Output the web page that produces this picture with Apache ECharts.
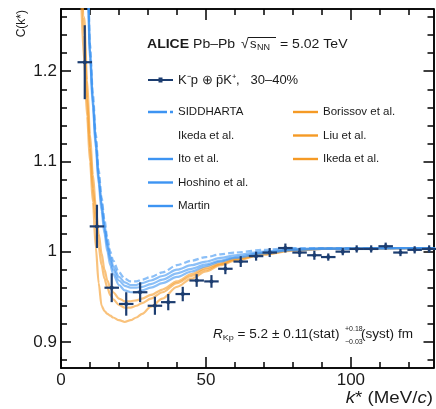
<!DOCTYPE html>
<html><head><meta charset="utf-8">
<script src="https://cdn.jsdelivr.net/npm/echarts@6/dist/echarts.min.js"></script>
<style>html,body{margin:0;padding:0;background:#fff}#c{width:436px;height:409px}</style>
</head><body><div id="c"></div>
<script>
// ---- data ----
const kData = [8.2, 12.4, 17.5, 22.5, 27.3, 32.4, 37, 42, 46.8, 51.9, 56.7, 62, 67.3, 72, 77.4, 82.3, 87.4, 92.2, 97.2, 102, 107, 112, 117.1, 122, 127];
const cData = [1.210, 1.028, 0.960, 0.942, 0.955, 0.940, 0.944, 0.953, 0.968, 0.967, 0.981, 0.989, 0.995, 0.999, 1.004, 0.999, 0.996, 0.994, 1.000, 1.003, 1.003, 1.006, 0.999, 1.002, 1.003];
const cErr  = [0.041, 0.024, 0.016, 0.013, 0.011, 0.010, 0.009, 0.008, 0.007, 0.007, 0.006, 0.006, 0.005, 0.005, 0.005, 0.005, 0.005, 0.004, 0.004, 0.004, 0.004, 0.004, 0.004, 0.004, 0.004];
const kHalfWidth = [2.5, 2.5, 2.5, 2.5, 2.5, 2.5, 2.5, 2.5, 2.5, 2.5, 2.5, 2.5, 2.5, 2.5, 2.5, 2.5, 2.5, 2.5, 2.5, 2.5, 2.5, 2.5, 2.5, 2.5, 2.5];

const curveK      = [6, 8, 9, 10, 11, 12, 13, 14, 15, 16, 17, 18, 20, 22, 24, 26, 28, 31, 35, 40, 45, 50, 55, 60, 70, 80, 90, 100, 115, 130];
const borissov    = [1.38, 1.21, 1.15, 1.10, 1.055, 1.005, 0.965, 0.940, 0.934, 0.931, 0.929, 0.927, 0.924, 0.922, 0.924, 0.927, 0.931, 0.939, 0.948, 0.961, 0.970, 0.978, 0.985, 0.990, 0.997, 1.002, 1.003, 1.003, 1.004, 1.004];
const liu         = [1.42, 1.24, 1.17, 1.115, 1.07, 1.035, 1.005, 0.985, 0.970, 0.960, 0.952, 0.947, 0.941, 0.938, 0.938, 0.940, 0.943, 0.948, 0.955, 0.965, 0.973, 0.980, 0.986, 0.991, 0.997, 1.001, 1.003, 1.003, 1.004, 1.004];
const ikedaOrange = [1.45, 1.26, 1.19, 1.13, 1.085, 1.05, 1.02, 0.998, 0.980, 0.968, 0.960, 0.955, 0.948, 0.945, 0.945, 0.946, 0.948, 0.952, 0.958, 0.967, 0.975, 0.982, 0.987, 0.992, 0.998, 1.002, 1.003, 1.003, 1.004, 1.004];
const hoshino     = [1.9, 1.45, 1.32, 1.215, 1.16, 1.115, 1.075, 1.045, 1.02, 1.0, 0.985, 0.975, 0.963, 0.957, 0.955, 0.955, 0.957, 0.960, 0.965, 0.972, 0.978, 0.984, 0.989, 0.993, 0.998, 1.002, 1.003, 1.003, 1.004, 1.004];
const martin      = [1.9, 1.46, 1.33, 1.22, 1.165, 1.12, 1.08, 1.05, 1.026, 1.006, 0.991, 0.980, 0.968, 0.962, 0.960, 0.960, 0.961, 0.964, 0.969, 0.976, 0.981, 0.986, 0.990, 0.994, 0.999, 1.002, 1.003, 1.003, 1.004, 1.004];
const ito         = [1.9, 1.47, 1.34, 1.225, 1.17, 1.125, 1.085, 1.055, 1.03, 1.01, 0.995, 0.984, 0.972, 0.966, 0.963, 0.963, 0.965, 0.968, 0.973, 0.980, 0.985, 0.989, 0.993, 0.996, 1.000, 1.003, 1.004, 1.004, 1.004, 1.004];
const siddharta   = [1.9, 1.48, 1.35, 1.23, 1.175, 1.13, 1.09, 1.06, 1.035, 1.015, 1.0, 0.990, 0.977, 0.970, 0.967, 0.967, 0.969, 0.972, 0.977, 0.985, 0.990, 0.994, 0.997, 0.999, 1.002, 1.004, 1.004, 1.004, 1.004, 1.004];

const xMajor = [0, 50, 100];
const xMinor = [10, 20, 30, 40, 60, 70, 80, 90, 110, 120];
const yMajor = [0.9, 1.0, 1.1, 1.2];
const yMinor = [0.88, 0.92, 0.94, 0.96, 0.98, 1.02, 1.04, 1.06, 1.08, 1.12, 1.14, 1.16, 1.18, 1.22, 1.24, 1.26];

const dataName = 'K\u207Bp \u2295 p\u0304K\u207A,   30\u201340%';

// ---- styling ----
const FONT = "'Liberation Sans', Arial, sans-serif";
const TXT = '#1a1a1a';
const DATA_COLOR = '#1c3d70';
const BLUE = '#3d94f2';
const ORANGE = '#f59a25';
const X_MIN = 0, X_MAX = 128.5, Y_MIN = 0.871, Y_MAX = 1.269;
const ICON_SOLID = 'path://M0,3.8L25,3.8L25,6.2L0,6.2Z';
const ICON_DASH = 'path://M0,3.8L19,3.8L19,6.2L0,6.2Z M22,3.8L25,3.8L25,6.2L22,6.2Z';
const ICON_DATA = 'path://M0,4.1L25,4.1L25,5.9L0,5.9Z M10.5,2.5L14.5,2.5L14.5,7.5L10.5,7.5Z';

function xAx(pos, ticks, len, labels) {
  return {
    type: 'value', position: pos, min: X_MIN, max: X_MAX,
    axisLine: { show: true, onZero: false, lineStyle: { color: '#000', width: 1.5 } },
    axisTick: { show: true, inside: true, length: len, customValues: ticks, lineStyle: { color: '#000', width: 1.5 } },
    axisLabel: labels ? { show: true, customValues: labels, margin: 4, fontSize: 17, color: TXT, fontFamily: FONT } : { show: false },
    splitLine: { show: false }, minorTick: { show: false }
  };
}
function yAx(pos, ticks, len, labels) {
  return {
    type: 'value', position: pos, min: Y_MIN, max: Y_MAX,
    axisLine: { show: true, onZero: false, lineStyle: { color: '#000', width: 1.5 } },
    axisTick: { show: true, inside: true, length: len, customValues: ticks, lineStyle: { color: '#000', width: 1.5 } },
    axisLabel: labels ? { show: true, customValues: labels, margin: 4, fontSize: 17, color: TXT, fontFamily: FONT } : { show: false },
    splitLine: { show: false }, minorTick: { show: false }
  };
}
function curve(name, vals, color, dashed) {
  return {
    type: 'line', name: name, xAxisIndex: 0, yAxisIndex: 0,
    data: curveK.map((k, i) => [k, vals[i]]),
    symbol: 'none', showSymbol: false, smooth: 0.3, smoothMonotone: 'x',
    lineStyle: { color: color, width: 2.2, opacity: 0.6, type: dashed ? [6, 3] : 'solid' },
    itemStyle: { color: color }, z: 2, silent: true, animation: false, clip: true
  };
}
function renderErr(params, api) {
  const k = api.value(0), c = api.value(1), e = api.value(2), dx = api.value(3);
  const pL = api.coord([k - dx, c]), pR = api.coord([k + dx, c]);
  const pT = api.coord([k, c + e]), pB = api.coord([k, c - e]);
  const pC = api.coord([k, c]);
  const st = { stroke: DATA_COLOR, lineWidth: 2.2 };
  return { type: 'group', children: [
    { type: 'line', shape: { x1: pL[0], y1: pL[1], x2: pR[0], y2: pR[1] }, style: st },
    { type: 'line', shape: { x1: pT[0], y1: pT[1], x2: pB[0], y2: pB[1] }, style: st },
    { type: 'circle', shape: { cx: pC[0], cy: pC[1], r: 2 }, style: { fill: DATA_COLOR } }
  ]};
}

const modelText = { fontSize: 11.5, color: TXT, fontFamily: FONT, lineHeight: 13 };
const chart = echarts.init(document.getElementById('c'), null, { renderer: 'canvas' });
chart.setOption({
  animation: false,
  backgroundColor: '#fff',
  grid: { left: 61, right: 2.5, top: 9, bottom: 41, outerBoundsMode: 'none' },
  xAxis: [ xAx('bottom', xMajor, 11, xMajor), xAx('bottom', xMinor, 6), xAx('top', xMajor, 11), xAx('top', xMinor, 6) ],
  yAxis: [ yAx('left', yMajor, 10, yMajor), yAx('left', yMinor, 6), yAx('right', yMajor, 10), yAx('right', yMinor, 6) ],
  legend: [
    { selectedMode: false, orient: 'vertical', left: 148, top: 73, padding: 0, itemWidth: 25, itemHeight: 10,
      textStyle: { fontSize: 13, color: TXT, fontFamily: FONT, lineHeight: 14 },
      data: [{ name: dataName, icon: ICON_DATA }] },
    { selectedMode: false, orient: 'vertical', left: 148, top: 105.5, padding: 0, itemWidth: 25, itemHeight: 10, itemGap: 10.5, textStyle: modelText,
      data: [{ name: 'SIDDHARTA', icon: ICON_DASH }, { name: 'Ikeda et al.', icon: ICON_SOLID }, { name: 'Ito et al.', icon: ICON_SOLID },
             { name: 'Hoshino et al.', icon: ICON_SOLID }, { name: 'Martin', icon: ICON_SOLID }] },
    { selectedMode: false, orient: 'vertical', left: 293, top: 105.5, padding: 0, itemWidth: 25, itemHeight: 10, itemGap: 10.5, textStyle: modelText,
      data: [{ name: 'Borissov et al.', icon: ICON_SOLID }, { name: 'Liu et al.', icon: ICON_SOLID }, { name: 'Ikeda et al. ', icon: ICON_SOLID }] }
  ],
  series: [
    curve('Borissov et al.', borissov, ORANGE, false),
    curve('Liu et al.', liu, ORANGE, false),
    curve('Ikeda et al. ', ikedaOrange, ORANGE, false),
    curve('Hoshino et al.', hoshino, BLUE, false),
    curve('Martin', martin, BLUE, false),
    curve('Ito et al.', ito, BLUE, false),
    curve('SIDDHARTA', siddharta, BLUE, true),
    { type: 'line', name: 'Ikeda et al.', data: [], symbol: 'none', lineStyle: { color: 'rgba(0,0,0,0)' }, itemStyle: { color: 'rgba(0,0,0,0)' } },
    { type: 'custom', name: dataName, xAxisIndex: 0, yAxisIndex: 0, renderItem: renderErr, z: 5,
      itemStyle: { color: DATA_COLOR },
      encode: { x: 0, y: 1 },
      data: kData.map((k, i) => [k, cData[i], cErr[i], kHalfWidth[i]]) }
  ],
  graphic: [
    // title pieces
    { type: 'text', x: 147, y: 44, scaleX: 1.08, style: { text: '{b|ALICE} Pb\u2013Pb', fill: TXT, font: '13px ' + FONT, verticalAlign: 'middle',
      rich: { b: { fontWeight: 'bold', fontSize: 13, fontFamily: FONT } } } },
    { type: 'text', x: 241, y: 44, style: { text: '\u221A', fill: TXT, font: '14px ' + FONT, verticalAlign: 'middle' } },
    { type: 'line', shape: { x1: 248, y1: 37.5, x2: 276, y2: 37.5 }, style: { stroke: TXT, lineWidth: 1 } },
    { type: 'text', x: 250, y: 44, style: { text: 's', fill: TXT, font: '13px ' + FONT, verticalAlign: 'middle' } },
    { type: 'text', x: 257, y: 48, style: { text: 'NN', fill: TXT, font: '9px ' + FONT, verticalAlign: 'middle' } },
    { type: 'text', x: 280, y: 44, scaleX: 1.08, style: { text: '= 5.02 TeV', fill: TXT, font: '13px ' + FONT, verticalAlign: 'middle' } },
    // axis titles
    { type: 'text', x: 22, y: 10, rotation: Math.PI / 2, style: { text: 'C(k*)', fill: TXT, font: '12px ' + FONT, align: 'right', verticalAlign: 'middle' } },
    { type: 'text', x: 433, y: 398, scaleX: 1.1, style: { text: '{i|k}* (MeV/{i|c})', fill: TXT, font: '17px ' + FONT, align: 'right', verticalAlign: 'middle',
      rich: { i: { fontStyle: 'italic', fontSize: 17, fontFamily: FONT } } } },
    // radius annotation
    { type: 'text', x: 213, y: 335, scaleX: 1.13, style: { text: '{i|R}{sub|Kp} = 5.2 \u00B1 0.11(stat)', fill: TXT, font: '12px ' + FONT, align: 'left', verticalAlign: 'middle',
      rich: { i: { fontStyle: 'italic', fontSize: 12, fontFamily: FONT }, sub: { fontSize: 8, fontFamily: FONT, padding: [6, 0, 0, 0] } } } },
    { type: 'text', x: 345, y: 329, style: { text: '+0.18', fill: TXT, font: '7px ' + FONT, align: 'left', verticalAlign: 'middle' } },
    { type: 'text', x: 345, y: 342, style: { text: '\u22120.03', fill: TXT, font: '7px ' + FONT, align: 'left', verticalAlign: 'middle' } },
    { type: 'text', x: 361, y: 335, scaleX: 1.13, style: { text: '(syst) fm', fill: TXT, font: '12px ' + FONT, align: 'left', verticalAlign: 'middle' } }
  ]
});
</script></body></html>
